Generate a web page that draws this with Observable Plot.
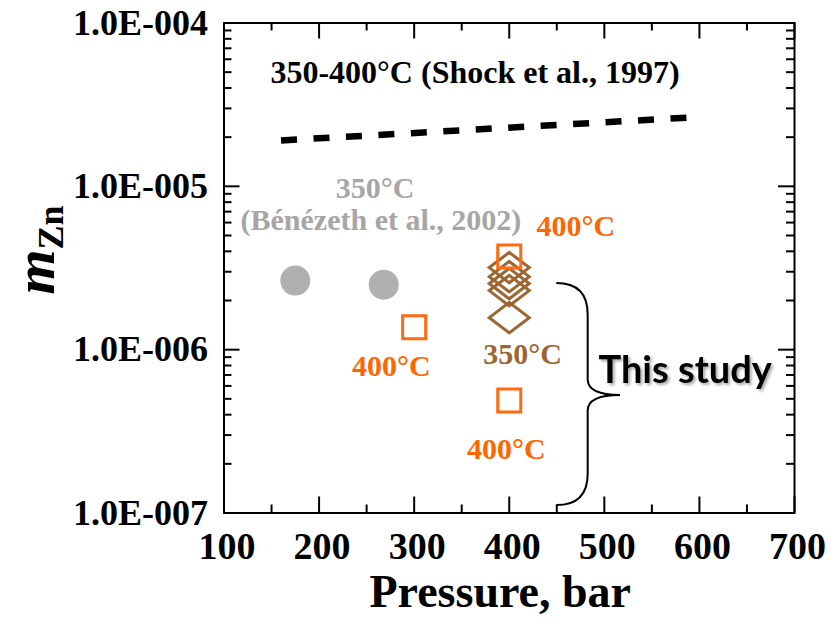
<!DOCTYPE html>
<html><head><meta charset="utf-8">
<script src="https://cdn.jsdelivr.net/npm/d3@7"></script>
<script src="https://cdn.jsdelivr.net/npm/@observablehq/plot@0.6"></script>
<style>body{margin:0;background:#fff} svg{display:block}</style>
</head><body><div id="chart"></div>
<script>
// ---- data ----
const shockP = [160, 590];
const shockM = [1.91e-5, 2.64e-5];
const benezethP = [175, 268];
const benezethM = [2.65e-6, 2.5e-6];
const study400P = [300, 400, 400];
const study400M = [1.37e-6, 3.72e-6, 4.88e-7];
const study350P = [400, 400, 400, 400, 400];
const study350M = [3.18e-6, 2.80e-6, 2.54e-6, 2.30e-6, 1.57e-6];

const xTicks = [100, 200, 300, 400, 500, 600, 700];
const xMinor = [150, 250, 350, 450, 550, 650];
const yTicks = [1e-7, 1e-6, 1e-5, 1e-4];
const yMinorMult = [2, 3, 4, 5, 6, 7, 8, 9];

const annText = ["350°C", "(Bénézeth et al., 2002)", "400°C", "400°C", "350°C", "400°C"];
const annP = [259, 265, 470, 276, 414, 397];
const annM = [9.69e-6, 6.18e-6, 5.67e-6, 7.87e-7, 9.33e-7, 2.45e-7];
const annColor = ["#a6a6a6", "#a6a6a6", "#ff6600", "#ff6600", "#9c6633", "#ff6600"];
const shockLabel = ["350-400°C (Shock et al., 1997)"];
const shockLabelP = [364];
const shockLabelM = [4.98e-5];

const studyLabel = ["This study"];
const studyLabelP = [585];
const studyLabelM = [7.45e-7];
// brace: pressures of ends, shaft, tip; mZn of top end, tip, bottom end
const braceP = [450, 483, 517];
const braceM = [2.54e-6, 5.24e-7, 1.11e-7];

// ---- build ----
const shock = shockP.map((p, i) => ({p, m: shockM[i]}));
const benezeth = benezethP.map((p, i) => ({p, m: benezethM[i]}));
const s400 = study400P.map((p, i) => ({p, m: study400M[i]}));
const s350 = study350P.map((p, i) => ({p, m: study350M[i]}));
const ann = annText.map((t, i) => ({t, p: annP[i], m: annM[i], c: annColor[i]}));
const yMinor = yTicks.slice(0, -1).flatMap(d => yMinorMult.map(k => d * k));

const W = 834, H = 618, mL = 223.5, mR = 40, mT = 22.5, mB = 105.5;
const iH = H - mT - mB, iW = W - mL - mR;
const serif = "'Liberation Serif','Times New Roman',serif";

const fmt = d => {
  const e = Math.round(Math.log10(d));
  const mant = d / Math.pow(10, e);
  return mant.toFixed(1) + "E" + (e < 0 ? "-" : "+") + String(Math.abs(e)).padStart(3, "0");
};

const rhombus = {
  draw(ctx, size) {
    const r = Math.sqrt(size / Math.PI);
    const a = r * 1.25, b = r * 0.95;
    ctx.moveTo(0, -b); ctx.lineTo(a, 0); ctx.lineTo(0, b); ctx.lineTo(-a, 0); ctx.closePath();
  }
};

const plot = Plot.plot({
  width: W, height: H,
  marginLeft: mL, marginRight: mR, marginTop: mT, marginBottom: mB,
  style: {fontFamily: serif, fontWeight: "bold", background: "#fff", overflow: "visible"},
  x: {type: "linear", domain: [100, 700]},
  y: {type: "log", domain: [1e-7, 1e-4]},
  marks: [
    // inward ticks on all four sides
    Plot.ruleX(xTicks, {x: d => d, insetTop: iH - 16, stroke: "#000", strokeWidth: 2}),
    Plot.ruleX(xTicks, {x: d => d, insetBottom: iH - 16, stroke: "#000", strokeWidth: 2}),
    Plot.ruleX(xMinor, {x: d => d, insetTop: iH - 8, stroke: "#000", strokeWidth: 2}),
    Plot.ruleX(xMinor, {x: d => d, insetBottom: iH - 8, stroke: "#000", strokeWidth: 2}),
    Plot.ruleY(yTicks, {y: d => d, insetRight: iW - 16, stroke: "#000", strokeWidth: 2}),
    Plot.ruleY(yTicks, {y: d => d, insetLeft: iW - 16, stroke: "#000", strokeWidth: 2}),
    Plot.ruleY(yMinor, {y: d => d, insetRight: iW - 8, stroke: "#000", strokeWidth: 2}),
    Plot.ruleY(yMinor, {y: d => d, insetLeft: iW - 8, stroke: "#000", strokeWidth: 2}),
    Plot.frame({stroke: "#000", strokeWidth: 2}),
    Plot.axisY(yTicks, {tickSize: 0, tickPadding: 16, tickFormat: fmt, fontSize: 36, fontWeight: "bold", fontFamily: serif, fill: "#000", label: null}),
    Plot.axisX(xTicks, {tickSize: 0, tickPadding: 19, tickFormat: d => String(d), fontSize: 38, fontWeight: "bold", fontFamily: serif, fill: "#000", label: null, dx: 3}),
    // Shock et al. line
    Plot.line(shock, {x: "p", y: "m", stroke: "#000", strokeWidth: 6.5, strokeDasharray: "16,16.5", strokeLinecap: "butt"}),
    // Bénézeth et al.
    Plot.dot(benezeth, {x: "p", y: "m", r: 15, fill: "#b0b0b0", stroke: "none"}),
    // This study
    Plot.dot(s350, {x: "p", y: "m", r: 16, symbol: rhombus, stroke: "#9c6633", strokeWidth: 3, fill: "none"}),
    Plot.dot(s400, {x: "p", y: "m", r: 13, symbol: "square", stroke: "#ff6a13", strokeWidth: 3, fill: "none"}),
    // annotations
    Plot.text(shockLabel, {x: () => shockLabelP[0], y: () => shockLabelM[0], text: d => d, fill: "#000", fontSize: 32, fontWeight: "bold", fontFamily: serif}),
    Plot.text(ann, {x: "p", y: "m", text: "t", fill: "c", fontSize: 30, fontWeight: "bold", fontFamily: serif}),
    Plot.text(studyLabel, {x: () => studyLabelP[0], y: () => studyLabelM[0], text: d => d, fill: "#000", fontSize: 38, fontWeight: "bold", fontFamily: "Lato, 'Open Sans', sans-serif"}),
    // axis title
    Plot.text(["Pressure, bar"], {frameAnchor: "bottom", lineAnchor: "middle", text: d => d, dx: -9, dy: 79, fontSize: 46, fontWeight: "bold", fontFamily: serif, fill: "#000"})
  ]
});

const svg = d3.select(plot);
const sx = plot.scale("x"), sy = plot.scale("y");
// soft shadow on the "This study" label
svg.selectAll("text").filter(function () { return this.textContent === studyLabel[0]; })
  .style("filter", "drop-shadow(2px 2px 1.5px rgba(0,0,0,0.35))");
// brace
{
  const x0 = sx.apply(braceP[0]), xm = sx.apply(braceP[1]), xt = sx.apply(braceP[2]);
  const y0 = sy.apply(braceM[0]), yt = sy.apply(braceM[1]), y1 = sy.apply(braceM[2]);
  const r = xm - x0;
  const path = `M${x0},${y0} Q${xm},${y0} ${xm},${y0 + r} L${xm},${yt - r / 2} Q${xm},${yt} ${xt},${yt} Q${xm},${yt} ${xm},${yt + r / 2} L${xm},${y1 - r} Q${xm},${y1} ${x0},${y1}`;
  svg.append("path").attr("d", path).attr("fill", "none").attr("stroke", "#000").attr("stroke-width", 2);
}
// y axis title: m_Zn
{
  const t = svg.append("text")
    .attr("transform", `translate(54,250) rotate(-90)`)
    .attr("text-anchor", "middle")
    .attr("font-family", serif)
    .attr("font-weight", "bold")
    .attr("fill", "#000");
  t.append("tspan").attr("font-style", "italic").attr("font-size", 58).text("m");
  t.append("tspan").attr("font-size", 36).attr("dy", 9).text("Zn");
}
document.getElementById("chart").appendChild(plot);
</script>
</body></html>
